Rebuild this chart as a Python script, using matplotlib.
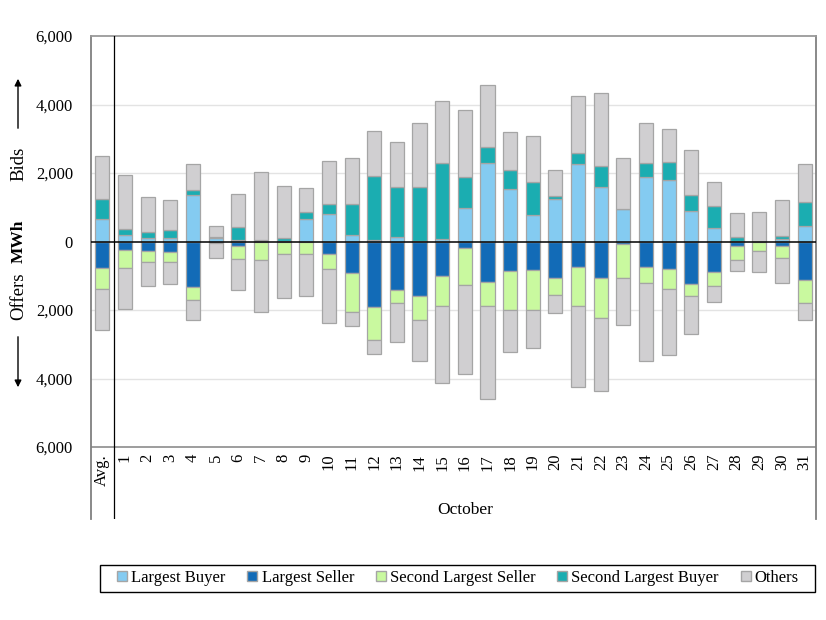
import matplotlib
matplotlib.use("Agg")
import matplotlib.pyplot as plt
import numpy as np
from matplotlib.patches import Patch, Rectangle
from matplotlib.ticker import FuncFormatter

categories = ["Avg."] + [str(d) for d in range(1, 32)]

# Bids (positive side), MWh
largest_buyer = [670, 200, 90, 110, 1360, 100, 30, 10, 20, 650, 810, 200, 40, 120, 20,
                 80, 990, 2280, 1530, 760, 1230, 2260, 1580, 940, 1880, 1790, 900, 390,
                 20, 0, 80, 460]
second_largest_buyer = [580, 160, 175, 230, 140, 20, 380, 40, 80, 220, 280, 890, 1860, 1470, 1560,
                        2220, 880, 480, 560, 970, 100, 320, 610, 0, 420, 540, 470, 640,
                        100, 0, 70, 690]
others_bids = [1250, 1570, 1020, 885, 750, 330, 990, 1970, 1520, 690, 1250, 1360, 1340, 1320, 1890,
               1810, 1960, 1810, 1110, 1350, 750, 1660, 2150, 1490, 1160, 950, 1290, 700,
               710, 870, 1060, 1110]

# Offers (negative side), MWh
largest_seller = [770, 240, 290, 310, 1320, 20, 140, 20, 10, 0, 360, 910, 1910, 1420, 1600,
                  1010, 180, 1190, 860, 840, 1080, 740, 1080, 60, 750, 790, 1250, 900,
                  130, 0, 130, 1120]
second_largest_seller = [620, 540, 320, 300, 390, 10, 380, 510, 350, 370, 450, 1140, 960, 370, 700,
                         860, 1090, 700, 1130, 1150, 490, 1150, 1140, 1010, 460, 600, 350, 400,
                         400, 290, 340, 680]
others_offers = [1200, 1180, 690, 640, 570, 450, 910, 1530, 1280, 1210, 1570, 430, 410, 1140, 1190,
                 2270, 2590, 2720, 1240, 1120, 530, 2370, 2150, 1370, 2280, 1910, 1090, 460,
                 330, 610, 750, 490]

c_lb = "#84CBF1"
c_ls = "#126BB7"
c_sls = "#C9F99F"
c_slb = "#1BADB1"
c_oth = "#D0CFD1"
edge = "#A5A5A5"

plt.rcParams["font.family"] = ["Liberation Serif", "DejaVu Serif"]

fig = plt.figure(figsize=(8.26, 6.2), dpi=100)
W, H = 826, 620
left, right, top, bottom = 91, 816, 36, 519
ax = fig.add_axes([left / W, 1 - bottom / H, (right - left) / W, (bottom - top) / H])

x = np.arange(len(categories))
lb = np.array(largest_buyer, float)
slb = np.array(second_largest_buyer, float)
ob = np.array(others_bids, float)
ls = np.array(largest_seller, float)
sls = np.array(second_largest_seller, float)
oo = np.array(others_offers, float)

bw = 0.62
kw = dict(width=bw, edgecolor=edge, linewidth=0.9, zorder=3)
ax.bar(x, lb, color=c_lb, **kw)
ax.bar(x, slb, bottom=lb, color=c_slb, **kw)
ax.bar(x, ob, bottom=lb + slb, color=c_oth, **kw)
ax.bar(x, -ls, color=c_ls, **kw)
ax.bar(x, -sls, bottom=-ls, color=c_sls, **kw)
ax.bar(x, -oo, bottom=-ls - sls, color=c_oth, **kw)

# y scale: 6000 at top, -6000 at pixel 447
px_per = (447 - 36) / 12000.0
ymin = -6000 - (bottom - 447) / px_per
ax.set_ylim(ymin, 6000)
ax.set_xlim(-0.5, len(categories) - 0.5)

yt = [-6000, -4000, -2000, 0, 2000, 4000, 6000]
ax.set_yticks(yt)
ax.yaxis.set_major_formatter(FuncFormatter(lambda v, p: f"{abs(int(round(v))):,}"))
ax.tick_params(axis="y", length=0, pad=13, labelsize=12)
ax.set_xticks([])

for v in [-4000, -2000, 2000, 4000]:
    ax.axhline(v, color="#E3E3E3", linewidth=1.0, zorder=1)
ax.axhline(-6000, color="#8C8C8C", linewidth=1.2, zorder=1)
ax.axhline(0, color="black", linewidth=1.1, zorder=4)

ax.spines["bottom"].set_visible(False)
for s in ["left", "right", "top"]:
    ax.spines[s].set_color("#808080")
    ax.spines[s].set_linewidth(1.3)
ax.spines["top"].set_color("#9A9A9A")

ax.axvline(0.5, color="black", linewidth=0.9, zorder=4)

# category labels (rotated) inside the frame below the -6000 line
for xi, lab in zip(x, categories):
    ax.text(xi, -6200, lab, rotation=90, ha="center", va="top", fontsize=12)
ax.text((1 + len(categories) - 1) / 2.0, -7850, "October", ha="center", va="center", fontsize=12.5)

def fy(py):
    return 1 - py / H
def fx(px):
    return px / W

fig.text(fx(19), fy(164), "Bids", rotation=90, ha="center", va="center", fontsize=13.5)
fig.text(fx(19), fy(241), "MWh", rotation=90, ha="center", va="center", fontsize=12.5, fontweight="bold")
fig.text(fx(19), fy(296), "Offers", rotation=90, ha="center", va="center", fontsize=13.5)
fig.add_artist(matplotlib.patches.FancyArrowPatch((fx(18), fy(131)), (fx(18), fy(76)),
               transform=fig.transFigure, arrowstyle="-|>", mutation_scale=10, color="black", linewidth=1.0))
fig.add_artist(matplotlib.patches.FancyArrowPatch((fx(18), fy(334)), (fx(18), fy(390)),
               transform=fig.transFigure, arrowstyle="-|>", mutation_scale=10, color="black", linewidth=1.0))

handles = [Patch(facecolor=c_lb, edgecolor=edge, label="Largest Buyer"),
           Patch(facecolor=c_ls, edgecolor=edge, label="Largest Seller"),
           Patch(facecolor=c_sls, edgecolor=edge, label="Second Largest Seller"),
           Patch(facecolor=c_slb, edgecolor=edge, label="Second Largest Buyer"),
           Patch(facecolor=c_oth, edgecolor=edge, label="Others")]
leg = fig.legend(handles=handles, loc="center", bbox_to_anchor=(fx(458), fy(578)), ncol=5,
                 fontsize=12, frameon=False,
                 handlelength=0.6, handleheight=0.6, handletextpad=0.25, columnspacing=1.3,
                 borderpad=0.2, borderaxespad=0)
fig.add_artist(Rectangle((fx(100), fy(592)), fx(815) - fx(100), fy(565) - fy(592),
                         transform=fig.transFigure, fill=False, edgecolor="black", linewidth=1.0))

fig.savefig("out.png", dpi=100)
